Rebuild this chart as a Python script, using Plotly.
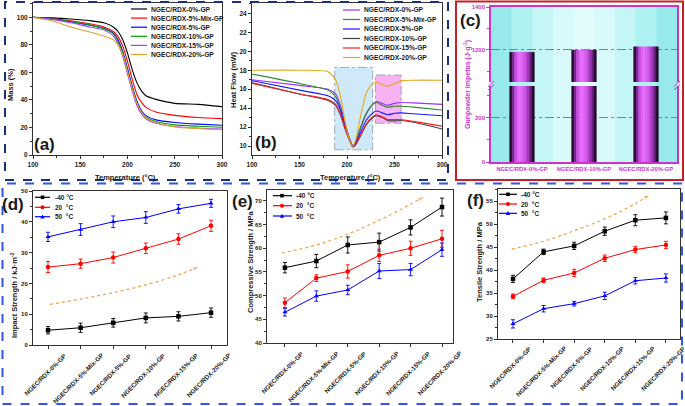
import plotly.graph_objects as go

W, H = 685, 406
FONT = "Liberation Sans, Arial, sans-serif"


def fx(p):
    return p / W


def fy(p):
    return 1 - p / H


# ---------------- data ----------------
sample_names = ["NGEC/RDX-0%-GP", "NGEC/RDX-5%-Mix-GP", "NGEC/RDX-5%-GP",
                "NGEC/RDX-10%-GP", "NGEC/RDX-15%-GP", "NGEC/RDX-20%-GP"]

# (a) TGA mass (%) vs temperature
tga_T = [100, 120, 140, 160, 175, 185, 190, 195, 200, 205, 210, 215, 220, 230, 250, 275, 300]
tga_0 = [100, 99.6, 98.8, 97.6, 96.0, 93.0, 89.7, 83.7, 74.0, 62.0, 52.4, 46.4, 42.8, 40.4, 37.5, 36.8, 35.1]
tga_5mix = [100, 99.0, 97.5, 95.3, 93.0, 89.7, 86.0, 79.0, 68.0, 55.0, 44.0, 38.0, 34.4, 31.2, 28.8, 27.2, 26.4]
tga_5 = [100, 98.8, 96.8, 94.3, 92.0, 88.5, 83.7, 75.0, 63.0, 50.0, 39.0, 32.0, 28.4, 25.5, 23.6, 22.4, 21.6]
tga_10 = [100, 98.8, 97.0, 94.5, 91.8, 88.0, 82.5, 74.0, 61.5, 48.8, 38.0, 30.8, 27.2, 24.3, 21.9, 20.9, 20.2]
tga_15 = [100, 98.5, 96.0, 93.0, 90.9, 86.5, 80.8, 71.6, 59.0, 46.4, 36.0, 29.6, 26.0, 23.1, 20.7, 19.5, 18.8]
tga_20 = [100, 97.5, 93.0, 89.3, 86.5, 83.7, 80.0, 72.8, 60.8, 48.0, 37.5, 30.8, 26.7, 23.6, 20.4, 19.2, 18.3]
tga_series = [tga_0, tga_5mix, tga_5, tga_10, tga_15, tga_20]
tga_colors = ["#000000", "#ff0000", "#0000ff", "#00a000", "#a040ff", "#e0a030"]

# (b) DSC heat flow (mW) vs temperature
dsc_T = [100, 150, 180, 188, 193, 198, 203, 206, 209, 214, 220, 226, 231, 237, 243, 250, 257, 270, 300]
dsc_0 = [17.0, 16.4, 16.0, 15.5, 14.3, 12.4, 10.7, 10.0, 10.3, 11.8, 13.3, 14.3, 14.7, 14.5, 14.3, 14.5, 14.6, 14.55, 14.4]
dsc_5mix = [17.6, 16.6, 15.9, 15.2, 14.0, 12.2, 10.6, 10.0, 10.4, 11.9, 13.4, 14.3, 14.6, 14.3, 14.1, 14.2, 14.2, 14.1, 13.8]
dsc_5 = [16.9, 15.9, 15.3, 14.8, 13.8, 12.1, 10.6, 10.0, 10.3, 11.4, 12.7, 13.4, 13.7, 13.5, 13.3, 13.45, 13.5, 13.4, 13.2]
dsc_10 = [16.7, 15.5, 14.8, 14.3, 13.3, 11.8, 10.5, 9.9, 10.1, 11.0, 12.2, 12.9, 13.2, 13.0, 12.7, 12.65, 12.7, 12.5, 11.8]
dsc_15 = [16.6, 15.5, 14.9, 14.4, 13.4, 11.9, 10.5, 9.95, 10.2, 11.1, 12.3, 13.0, 13.3, 13.1, 12.8, 12.8, 12.8, 12.6, 12.1]
dsc_20 = [18.0, 18.0, 17.85, 17.0, 15.3, 12.6, 10.5, 10.0, 10.6, 13.0, 15.5, 16.5, 16.75, 16.5, 16.3, 16.6, 16.9, 16.95, 16.95]
dsc_series = [dsc_0, dsc_5mix, dsc_5, dsc_10, dsc_15, dsc_20]
dsc_colors = ["#9b30ff", "#2e8b2e", "#1a1aff", "#404040", "#ff2020", "#e6a81e"]

# (c) gunpowder impetus
imp_names = ["NGEC/RDX-0%-GP", "NGEC/RDX-10%-GP", "NGEC/RDX-20%-GP"]
imp_values = [1190, 1200, 1215]

# (d)(e)(f) mechanical properties
temps = ["-40 °C", "20 \u00a0°C", "50 \u00a0°C"]
impact = {
    "-40": [4.8, 5.6, 7.2, 8.8, 9.3, 10.5],
    "20": [25.3, 26.4, 28.4, 31.4, 34.4, 38.7],
    "50": [35.1, 37.5, 40.0, 41.4, 44.2, 46.0],
}
impact_err = {
    "-40": [1.2, 1.5, 1.4, 1.6, 1.5, 1.5],
    "20": [1.8, 1.5, 1.8, 1.7, 1.7, 1.8],
    "50": [1.5, 1.9, 1.9, 1.9, 1.4, 1.3],
}
compressive = {
    "-40": [55.9, 57.3, 60.7, 61.3, 64.4, 68.7],
    "20": [48.5, 53.7, 55.1, 58.5, 60.0, 62.0],
    "50": [46.5, 49.9, 51.2, 55.2, 55.5, 59.7],
}
compressive_err = {
    "-40": [1.1, 1.4, 1.7, 1.9, 1.6, 1.9],
    "20": [1.0, 0.7, 1.4, 1.3, 1.5, 1.8],
    "50": [0.8, 1.1, 1.0, 1.6, 1.3, 1.4],
}
tensile = {
    "-40": [38.1, 44.0, 45.3, 48.5, 50.9, 51.4],
    "20": [34.3, 37.8, 39.4, 42.6, 44.5, 45.5],
    "50": [28.3, 31.6, 32.7, 34.4, 37.7, 38.3],
}
tensile_err = {
    "-40": [0.8, 0.6, 0.8, 0.9, 1.2, 1.3],
    "20": [0.5, 0.5, 0.8, 0.7, 0.7, 0.8],
    "50": [0.9, 0.7, 0.5, 0.8, 0.7, 0.9],
}
# trend arrows (decorative dotted curves)
arrow_d_x = [0.06, 1.0, 2.0, 3.0, 4.0, 4.63]
arrow_d_y = [13.2, 14.9, 17.0, 19.5, 22.8, 25.4]
arrow_e_x = [-0.1, 1.0, 2.0, 3.0, 4.0, 4.43]
arrow_e_y = [59.0, 60.7, 63.0, 65.9, 69.3, 70.9]
arrow_f_x = [-0.04, 1.0, 2.0, 3.0, 4.0, 4.48]
arrow_f_y = [44.6, 46.3, 48.6, 51.2, 54.5, 56.5]

mech_colors = {"-40": "#000000", "20": "#ff0000", "50": "#0000ff"}
mech_symbols = {"-40": "square", "20": "circle", "50": "triangle-up"}

fig = go.Figure()
shapes = []
annotations = []

# ---------------- (a) ----------------
for name, ys, c in zip(sample_names, tga_series, tga_colors):
    fig.add_trace(go.Scatter(x=tga_T, y=ys, mode="lines", name=name,
                             line=dict(color=c, width=1.1, shape="spline", smoothing=0.6),
                             xaxis="x", yaxis="y", showlegend=False))

# ---------------- (b) ----------------
shapes.append(dict(type="rect", xref="x2", yref="y2", x0=187, x1=227, y0=9.6, y1=18.3,
                   fillcolor="#cfe9f8", line=dict(color="#8a9aa8", width=0.8, dash="dashdot"),
                   layer="below"))
shapes.append(dict(type="rect", xref="x2", yref="y2", x0=230, x1=257, y0=12.4, y1=17.5,
                   fillcolor="#f6b2f3", line=dict(color="#8a9aa8", width=0.8, dash="dashdot"),
                   layer="below"))
for name, ys, c in zip(sample_names, dsc_series, dsc_colors):
    fig.add_trace(go.Scatter(x=dsc_T, y=ys, mode="lines", name=name,
                             line=dict(color=c, width=1.1, shape="spline", smoothing=0.6),
                             xaxis="x2", yaxis="y2", showlegend=False))

# ---------------- (c) ----------------
# cyan gradient background
bg_cols = ["#98eaea", "#aef1f1", "#c4f6f6", "#d8fafa", "#e2fcfc", "#d8fafa", "#c4f6f6", "#aef1f1", "#98eaea"]
cx0, cx1 = 491, 677
nb = len(bg_cols)
for i, c in enumerate(bg_cols):
    shapes.append(dict(type="rect", xref="paper", yref="paper",
                       x0=fx(cx0 + (cx1 - cx0) * i / nb), x1=fx(cx0 + (cx1 - cx0) * (i + 1) / nb + 0.5),
                       y0=fy(162), y1=fy(7), fillcolor=c, line=dict(width=0), layer="below"))
strip_colors = ["#2a0a30", "#7a2490", "#c84ae0", "#e066f8", "#e46cfa", "#dc5ef2",
                "#c84ade", "#a03ab8", "#682080", "#2a0a30"]
imp_x = list(range(len(imp_names)))
bar_w = 0.4
ns = len(strip_colors)
for xa, ya in (("x3", "y3"), ("x4", "y4")):
    for i, c in enumerate(strip_colors):
        fig.add_trace(go.Bar(x=imp_x, y=imp_values, width=bar_w / ns,
                             offset=-bar_w / 2 + i * bar_w / ns,
                             marker=dict(color=c, line=dict(color=c, width=0.4)),
                             xaxis=xa, yaxis=ya, showlegend=False, hoverinfo="skip"))

# ---------------- (d)(e)(f) ----------------
cat_x = list(range(len(sample_names)))
for (vals, errs, xa, ya) in ((impact, impact_err, "x5", "y5"),
                             (compressive, compressive_err, "x6", "y6"),
                             (tensile, tensile_err, "x7", "y7")):
    for key in ["-40", "20", "50"]:
        c = mech_colors[key]
        fig.add_trace(go.Scatter(x=cat_x, y=vals[key], mode="lines+markers",
                                 line=dict(color=c, width=1),
                                 marker=dict(color=c, symbol=mech_symbols[key], size=4.5),
                                 error_y=dict(type="data", array=errs[key], color=c,
                                              thickness=0.9, width=2),
                                 xaxis=xa, yaxis=ya, showlegend=False))

for ax_, ay_, xa, ya in ((arrow_d_x, arrow_d_y, "x5", "y5"),
                         (arrow_e_x, arrow_e_y, "x6", "y6"),
                         (arrow_f_x, arrow_f_y, "x7", "y7")):
    sizes = [0] * (len(ax_) - 1) + [7]
    fig.add_trace(go.Scatter(x=ax_, y=ay_, mode="lines+markers",
                             line=dict(color="#f5a040", width=1.2, dash="dot", shape="spline"),
                             marker=dict(symbol="arrow", size=sizes, color="#f5a040",
                                         angleref="previous"),
                             xaxis=xa, yaxis=ya, showlegend=False, hoverinfo="skip"))


# ---------------- axes ----------------
def tfont(size=6.5, color="#1a1a1a"):
    return dict(family=FONT, size=size, color=color, weight="bold")


def axis(**kw):
    d = dict(showline=True, linecolor="#333333", linewidth=1, mirror=True,
             ticks="outside", ticklen=3, tickwidth=1, tickcolor="#333333",
             showgrid=False, zeroline=False, tickfont=tfont(), automargin=False,
             minor=dict(ticks="outside", ticklen=2, tickcolor="#333333"))
    d.update(kw)
    return d


def dom_x(a, b):
    return [fx(a), fx(b)]


def dom_y(top, bottom):
    return [fy(bottom), fy(top)]


lay = dict(
    width=W, height=H, margin=dict(l=0, r=0, t=0, b=0, pad=0, autoexpand=False),
    paper_bgcolor="white", plot_bgcolor="rgba(0,0,0,0)",
    barmode="overlay", showlegend=False,
    font=dict(family=FONT),
    # (a)
    xaxis=axis(domain=dom_x(33, 222), range=[100, 300], anchor="y", tickvals=[100, 150, 200, 250, 300],
               minor=dict(ticks="outside", ticklen=2, dtick=25, tick0=100, tickcolor="#333333")),
    yaxis=axis(domain=dom_y(3, 155), range=[0, 110.4], anchor="x", tickvals=[0, 20, 40, 60, 80, 100],
               minor=dict(ticks="outside", ticklen=2, dtick=10, tick0=0, tickcolor="#333333")),
    # (b)
    xaxis2=axis(domain=dom_x(252, 442), range=[100, 300], anchor="y2", tickvals=[100, 150, 200, 250, 300],
                minor=dict(ticks="outside", ticklen=2, dtick=25, tick0=100, tickcolor="#333333")),
    yaxis2=axis(domain=dom_y(3, 155), range=[9.05, 25.1], anchor="x2",
                tickvals=[10, 12, 14, 16, 18, 20, 22, 24],
                minor=dict(ticks="outside", ticklen=2, dtick=1, tick0=10, tickcolor="#333333")),
    # (c) lower
    xaxis3=dict(domain=dom_x(491, 677), range=[-0.5, 2.5], anchor="y3", showline=True,
                linecolor="#cc33cc", linewidth=1.5, mirror=False, ticks="", showgrid=False,
                zeroline=False, tickvals=imp_x, ticktext=imp_names,
                tickfont=tfont(5.8, "#cc33cc"), automargin=False),
    yaxis3=dict(domain=dom_y(86, 162), range=[0, 345], anchor="x3", showline=True,
                linecolor="#cc33cc", linewidth=1.5, mirror=True, ticks="outside", ticklen=3,
                tickcolor="#cc33cc", tickvals=[0, 200], showgrid=True, gridcolor="#e040e0",
                griddash="dashdot", gridwidth=1, zeroline=False, tickfont=tfont(6, "#cc33cc"),
                automargin=False,
                minor=dict(ticks="outside", ticklen=2, tickvals=[100, 300], tickcolor="#cc33cc")),
    # (c) upper
    xaxis4=dict(domain=dom_x(491, 677), range=[-0.5, 2.5], anchor="y4", side="top",
                showline=True, linecolor="#cc33cc", linewidth=1.5, mirror=False, ticks="",
                showticklabels=False, showgrid=False, zeroline=False, automargin=False),
    yaxis4=dict(domain=dom_y(7, 82), range=[1051, 1400], anchor="x4", showline=True,
                linecolor="#cc33cc", linewidth=1.5, mirror=True, ticks="outside", ticklen=3,
                tickcolor="#cc33cc", tickvals=[1200, 1400], showgrid=True, gridcolor="#e040e0",
                griddash="dashdot", gridwidth=1, zeroline=False, tickfont=tfont(6, "#cc33cc"),
                automargin=False,
                minor=dict(ticks="outside", ticklen=2, tickvals=[1100, 1300], tickcolor="#cc33cc")),
    # (d)
    xaxis5=axis(domain=dom_x(33, 227), range=[-0.46, 5.49], anchor="y5", tickvals=cat_x,
                showticklabels=False),
    yaxis5=axis(domain=dom_y(191, 345), range=[0, 50], anchor="x5", tickvals=[0, 10, 20, 30, 40, 50],
                tickfont=tfont(6),
                minor=dict(ticks="outside", ticklen=2, dtick=5, tick0=0, tickcolor="#333333")),
    # (e)
    xaxis6=axis(domain=dom_x(267, 453), range=[-0.57, 5.35], anchor="y6", tickvals=cat_x,
                showticklabels=False),
    yaxis6=axis(domain=dom_y(190, 343), range=[40, 72.3], anchor="x6",
                tickvals=[40, 45, 50, 55, 60, 65, 70], tickfont=tfont(6),
                minor=dict(ticks="outside", ticklen=2, dtick=2.5, tick0=40, tickcolor="#333333")),
    # (f)
    xaxis7=axis(domain=dom_x(498, 680), range=[-0.49, 5.46], anchor="y7", tickvals=cat_x,
                showticklabels=False),
    yaxis7=axis(domain=dom_y(189, 339), range=[25, 57.7], anchor="x7",
                tickvals=[25, 30, 35, 40, 45, 50, 55], tickfont=tfont(6),
                minor=dict(ticks="outside", ticklen=2, dtick=2.5, tick0=25, tickcolor="#333333")),
)
for k in ("xaxis5", "xaxis6", "xaxis7"):
    lay[k].pop("minor")


# ---------------- text ----------------
def text(x, y, s, size=7.5, color="#1a1a1a", angle=0, xanchor="center", weight="bold"):
    annotations.append(dict(xref="paper", yref="paper", x=fx(x), y=fy(y), text=s,
                            showarrow=False, xanchor=xanchor, yanchor="middle", textangle=angle,
                            font=dict(family=FONT, size=size, color=color, weight=weight)))


text(44, 144, "(a)", size=17)
text(266, 143, "(b)", size=17)
text(470, 21, "(c)", size=17)
text(13, 204, "(d)", size=17)
text(242, 202, "(e)", size=17)
text(475, 200, "(f)", size=17)

text(10, 85, "Mass (%)", angle=-90)
text(125, 177, "Temperature (°C)")
text(234, 80, "Heat Flow (mW)", angle=-90)
text(350, 177, "Temperature (°C)")
text(467, 85, "Gunpowder impetus (J·g<sup>-1</sup>)", angle=-90, color="#cc33cc", size=7)
text(14, 295, "Impact Strength / kJ·m<sup>-2</sup>", angle=-90)
text(250, 262, "Compressive Strength / MPa", angle=-90)
text(479, 262, "Tensile Strength / MPa", angle=-90)

# rotated category labels, centred under each tick (Origin style)
for xa, top in (("x5", 349), ("x6", 347), ("x7", 342)):
    for i, name in zip(cat_x, sample_names):
        annotations.append(dict(xref=xa, yref="paper", x=i, y=fy(top), text=name,
                                showarrow=False, xanchor="center", yanchor="top", textangle=-45,
                                xshift=-3, font=tfont(6.3)))


# ---------------- legends ----------------
def leg_line(x0, x1, y, color, label, tx, size=6.7, marker=None, mx=None):
    shapes.append(dict(type="line", xref="paper", yref="paper", x0=fx(x0), x1=fx(x1),
                       y0=fy(y), y1=fy(y), line=dict(color=color, width=1.2)))
    if marker == "square":
        shapes.append(dict(type="rect", xref="paper", yref="paper", x0=fx(mx - 1.8), x1=fx(mx + 1.8),
                           y0=fy(y + 1.8), y1=fy(y - 1.8), fillcolor=color, line=dict(width=0)))
    elif marker == "circle":
        shapes.append(dict(type="circle", xref="paper", yref="paper", x0=fx(mx - 2), x1=fx(mx + 2),
                           y0=fy(y + 2), y1=fy(y - 2), fillcolor=color, line=dict(width=0)))
    elif marker == "triangle":
        path = "M {} {} L {} {} L {} {} Z".format(fx(mx - 2.2), fy(y + 1.8), fx(mx + 2.2), fy(y + 1.8),
                                                  fx(mx), fy(y - 2.2))
        shapes.append(dict(type="path", xref="paper", yref="paper", path=path, fillcolor=color,
                           line=dict(width=0)))
    text(tx, y, label, size=size, xanchor="left")


for i, (name, c) in enumerate(zip(sample_names, tga_colors)):
    leg_line(131, 147, 9 + 9.1 * i, c, name, 149)
for i, (name, c) in enumerate(zip(sample_names, dsc_colors)):
    leg_line(343, 360, 10 + 9.5 * i, c, name, 362)

mk = {"-40": "square", "20": "circle", "50": "triangle"}
for (lx0, lx1, mxp, tx, ys) in ((35, 50, 42.5, 53, [197.3, 207.3, 216.7]),
                                 (273, 292, 282, 294, [195.7, 205.7, 216.0]),
                                 (499, 517, 508, 519, [194.3, 204.0, 213.3])):
    for key, lab, yy in zip(["-40", "20", "50"], temps, ys):
        leg_line(lx0, lx1, yy, mech_colors[key], lab, tx, size=6.5, marker=mk[key], mx=mxp)

# break marks on (c)
for bx in (491, 677):
    for dy in (0, 3.5):
        shapes.append(dict(type="line", xref="paper", yref="paper", x0=fx(bx - 3), y0=fy(86.5 + dy),
                           x1=fx(bx + 3), y1=fy(81 + dy), line=dict(color="#cc33cc", width=1)))

# ---------------- frames ----------------
shapes.append(dict(type="rect", xref="paper", yref="paper", x0=fx(5), x1=fx(448), y0=fy(180), y1=fy(2),
                   line=dict(color="#1c2f7a", width=2, dash="dash"), layer="above"))
shapes.append(dict(type="rect", xref="paper", yref="paper", x0=fx(456), x1=fx(683), y0=fy(180), y1=fy(1.5),
                   line=dict(color="#c81e28", width=2), layer="above"))
shapes.append(dict(type="rect", xref="paper", yref="paper", x0=fx(2.5), x1=fx(682), y0=fy(404), y1=fy(183.5),
                   line=dict(color="#3355e6", width=2, dash="dash"), layer="above"))

lay["shapes"] = shapes
lay["annotations"] = annotations
fig.update_layout(**lay)
fig.write_html("out.html", config={"displayModeBar": False},
               post_script="document.body.style.margin='0px';document.body.style.padding='0px';")
